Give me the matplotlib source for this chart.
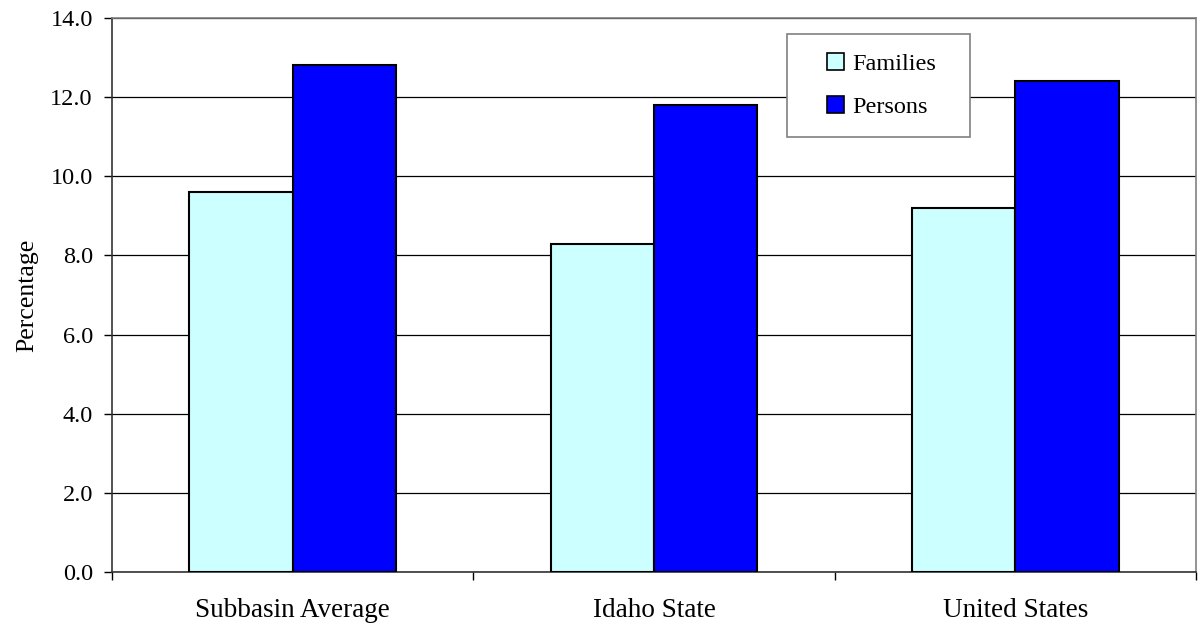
import numpy as np
from matplotlib import pyplot as plt
from matplotlib.patches import Rectangle

categories = ['Subbasin Average', 'Idaho State', 'United States']
families = [9.6, 8.3, 9.2]
persons = [12.8, 11.8, 12.4]
y_ticks = [0, 2, 4, 6, 8, 10, 12, 14]

plt.rcParams['font.family'] = ['Liberation Serif', 'DejaVu Serif']

W, H = 1198, 626
fig = plt.figure(figsize=(W / 100, H / 100), dpi=100)
ax = fig.add_axes([112 / W, 1 - 572 / H, (1196 - 112) / W, (572 - 18) / H])

x = np.arange(len(categories))
w = 1 / 3.5
ax.bar(x - w / 2, families, w, color='#CCFFFF', edgecolor='black', linewidth=1.5,
       label='Families', zorder=3)
ax.bar(x + w / 2, persons, w, color='#0000FF', edgecolor='black', linewidth=1.5,
       label='Persons', zorder=3)

ax.set_xlim(-0.5, len(categories) - 0.5)
ax.set_ylim(0, 14)
ax.set_yticks(y_ticks)
ax.set_yticklabels(['%.1f' % v for v in y_ticks])
ax.yaxis.grid(True, color='black', linewidth=0.9, zorder=0)

# category labels centred, ticks on the boundaries
ax.set_xticks(x)
ax.set_xticklabels(categories)
ax.tick_params(axis='x', length=0, labelsize=19.5, pad=19)
ax.set_xticks(np.arange(len(categories) + 1) - 0.5, minor=True)
ax.tick_params(axis='x', which='minor', length=6, width=1, direction='out')
ax.tick_params(axis='y', length=5.8, width=1, direction='out', labelsize=17.5, pad=8)

ax.set_ylabel('Percentage', fontsize=18.5, labelpad=9)

for side in ['top', 'right']:
    ax.spines[side].set_color('#808080')
    ax.spines[side].set_linewidth(1.2)
for side in ['left', 'bottom']:
    ax.spines[side].set_color('#333333')
    ax.spines[side].set_linewidth(1.2)

# legend box drawn separately so the padding can be wider than tall
def px(xp, yp):
    return (xp - 112) / 1084, (572 - yp) / 554

bx, by = px(787, 137)
box = Rectangle((bx, by), (970 - 787) / 1084, (137 - 34) / 554, transform=ax.transAxes,
                facecolor='white', edgecolor='#808080', linewidth=1.2, zorder=4,
                clip_on=False)
ax.add_patch(box)

leg = ax.legend(loc='center left', bbox_to_anchor=px(827, 85.5), fontsize=17.5,
                frameon=False, handlelength=0.7, handleheight=0.7,
                handletextpad=0.33, borderpad=0, labelspacing=0.85, borderaxespad=0)
leg.set_zorder(5)
for h in leg.legend_handles:
    h.set_linewidth(1.2)

fig.savefig('out.png', dpi=100)
